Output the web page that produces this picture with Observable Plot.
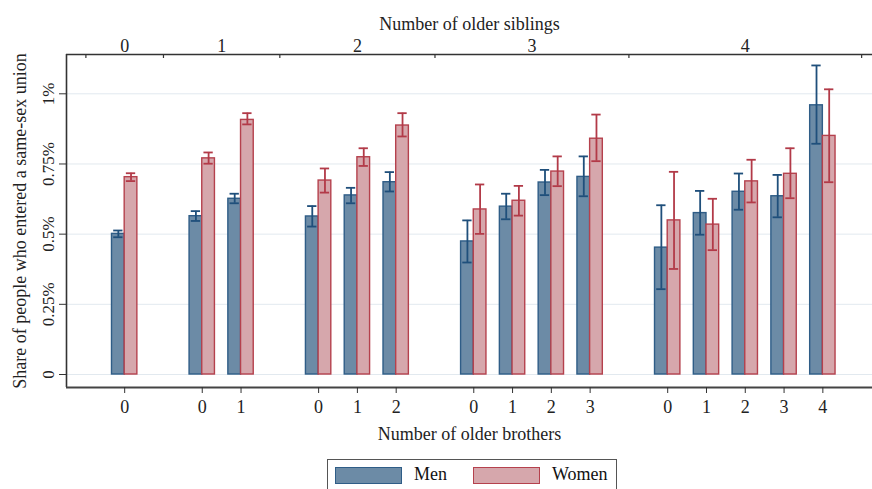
<!DOCTYPE html>
<html>
<head>
<meta charset="utf-8">
<script src="https://cdn.jsdelivr.net/npm/d3@7"></script>
<script src="https://cdn.jsdelivr.net/npm/@observablehq/plot@0.6"></script>
<style>
  body { margin: 0; background: #fff; font-family: "Liberation Serif", "DejaVu Serif", serif; }
  #chart { width: 872px; }
  #chart svg { display: block; }
  #chart svg, #chart svg text { font-family: "Liberation Serif", "DejaVu Serif", serif !important; }
  #legend { position: relative; margin-left: 327px; margin-top: 7px; width: 290px; height: 40px; border: 1.5px solid #555; box-sizing: border-box; background: #fff; }
  .sw { position: absolute; top: 7px; width: 67px; height: 17px; box-sizing: border-box; border: 1.5px solid; }
  .lab { position: absolute; top: 3px; font-size: 18px; line-height: 22px; color: #111; font-family: "Liberation Serif", "DejaVu Serif", serif; }
</style>
</head>
<body>
<div id="chart"></div>
<div id="legend"></div>
<script>
// ---- data (values in percent) ----
const siblings = [0, 1, 1, 2, 2, 2, 3, 3, 3, 3, 4, 4, 4, 4, 4];
const brothers = [0, 0, 1, 0, 1, 2, 0, 1, 2, 3, 0, 1, 2, 3, 4];
const menShare  = [0.501, 0.564, 0.626, 0.563, 0.638, 0.685, 0.474, 0.598, 0.684, 0.704, 0.452, 0.575, 0.651, 0.635, 0.959];
const menLow    = [0.489, 0.547, 0.610, 0.527, 0.610, 0.652, 0.399, 0.553, 0.639, 0.635, 0.304, 0.498, 0.587, 0.560, 0.822];
const menHigh   = [0.513, 0.582, 0.644, 0.600, 0.665, 0.721, 0.549, 0.644, 0.729, 0.777, 0.603, 0.654, 0.716, 0.711, 1.101];
const womenShare = [0.703, 0.770, 0.907, 0.691, 0.774, 0.887, 0.588, 0.619, 0.723, 0.840, 0.549, 0.534, 0.688, 0.715, 0.850];
const womenLow   = [0.689, 0.751, 0.891, 0.648, 0.743, 0.848, 0.501, 0.566, 0.671, 0.760, 0.376, 0.443, 0.613, 0.628, 0.685];
const womenHigh  = [0.717, 0.791, 0.931, 0.734, 0.806, 0.931, 0.677, 0.672, 0.777, 0.926, 0.722, 0.626, 0.765, 0.806, 1.016];
const siblingLabels = ["0", "1", "2", "3", "4"];
const yTicks = [0, 0.25, 0.5, 0.75, 1];
const yTickLabels = ["0", "0.25%", "0.5%", "0.75%", "1%"];
const sexes = ["Men", "Women"];

// ---- layout helpers ----
const groupStart = g => g * (g + 1) / 2 + g;   // slot where sibling group g begins
const slot = i => groupStart(siblings[i]) + brothers[i];
const W = 0.327;   // bar width in slot units
const CAP = 0.12;  // half cap width
const xDomain = [-1.5, 19.28];
const yDomain = [-0.0463, 1.14];
const H = 452, MT = 54, MB = 65;
const FONT = '"Liberation Serif", "DejaVu Serif", serif';

const rows = [];
siblings.forEach((s, i) => {
  const p = slot(i);
  rows.push({sex: "Men", slot: p, x1: p - W, x2: p, xc: p - W / 2, v: menShare[i], lo: menLow[i], hi: menHigh[i]});
  rows.push({sex: "Women", slot: p, x1: p, x2: p + W, xc: p + W / 2, v: womenShare[i], lo: womenLow[i], hi: womenHigh[i]});
});
const slots = siblings.map((s, i) => slot(i));
const brotherBySlot = new Map(slots.map((p, i) => [p, String(brothers[i])]));
const groupCenters = siblingLabels.map((l, g) => groupStart(g) + g / 2);
const groupLabelByCenter = new Map(groupCenters.map((c, g) => [c, siblingLabels[g]]));
const boundaries = [-1, ...siblingLabels.map((l, g) => groupStart(g) + g + 1)];
const yLabelOf = new Map(yTicks.map((t, i) => [t, yTickLabels[i]]));

const fillC = {Men: "#6c8ba6", Women: "#d6a7ac"};
const strokeC = {Men: "#2f5d87", Women: "#b5414d"};
const errC = {Men: "#1f4f7b", Women: "#b23a48"};

const marks = [
  Plot.gridY(yTicks, {stroke: "#e2e9ef", strokeOpacity: 1, strokeWidth: 1})
];
sexes.forEach(s => {
  const d = rows.filter(r => r.sex === s);
  marks.push(Plot.rectY(d, {x1: "x1", x2: "x2", y: "v", fill: fillC[s], stroke: strokeC[s], strokeWidth: 1.4}));
});
sexes.forEach(s => {
  const d = rows.filter(r => r.sex === s);
  marks.push(Plot.ruleX(d, {x: "xc", y1: "lo", y2: "hi", stroke: errC[s], strokeWidth: 1.8}));
  marks.push(Plot.ruleY(d, {y: "hi", x1: r => r.xc - CAP, x2: r => r.xc + CAP, stroke: errC[s], strokeWidth: 1.8}));
  marks.push(Plot.ruleY(d, {y: "lo", x1: r => r.xc - CAP, x2: r => r.xc + CAP, stroke: errC[s], strokeWidth: 1.8}));
});
marks.push(
  // frame lines
  Plot.ruleX([xDomain[0]], {stroke: "#333", strokeWidth: 1.6}),
  Plot.ruleY([yDomain[0]], {stroke: "#444", strokeWidth: 1.8}),
  Plot.ruleY([yDomain[1]], {stroke: "#333", strokeWidth: 1.4}),
  // y axis
  Plot.axisY(yTicks, {tickSize: 7, tickFormat: () => "", label: null, stroke: "#333"}),
  Plot.text(yTicks, {y: d => d, text: d => yLabelOf.get(d), frameAnchor: "left", dx: -18, rotate: -90, textAnchor: "middle", lineAnchor: "middle", fontSize: 17, fontFamily: FONT, fill: "#222"}),
  Plot.text(["Share of people who entered a same-sex union"], {frameAnchor: "left", dx: -46, rotate: -90, textAnchor: "middle", lineAnchor: "middle", fontSize: 18, fontFamily: FONT, fill: "#222"}),
  // bottom axis
  Plot.axisX(slots, {anchor: "bottom", tickSize: 6, tickPadding: 7, tickFormat: d => brotherBySlot.get(d), label: null, fontSize: 18, fontFamily: FONT, stroke: "#333", fill: "#222"}),
  Plot.text(["Number of older brothers"], {frameAnchor: "bottom", dy: 47, lineAnchor: "middle", fontSize: 18, fontFamily: FONT, fill: "#222"}),
  // top axis: inward ticks at group boundaries, labels at group centres
  Plot.ruleX(boundaries, {insetBottom: H - MT - MB - 4, stroke: "#333", strokeWidth: 1.2}),
  Plot.axisX(groupCenters, {anchor: "top", tickSize: 0, tickPadding: 3, tickFormat: d => groupLabelByCenter.get(d), label: null, fontSize: 18, fontFamily: FONT, fill: "#222"}),
  Plot.text(["Number of older siblings"], {frameAnchor: "top", dy: -30, lineAnchor: "middle", fontSize: 18, fontFamily: FONT, fill: "#222"})
);

const chart = Plot.plot({
  width: 872,
  height: H,
  marginLeft: 66,
  marginRight: 0,
  marginTop: MT,
  marginBottom: MB,
  style: {fontFamily: FONT, fontSize: "16px", background: "#fff", color: "#222"},
  x: {type: "linear", domain: xDomain, axis: null},
  y: {domain: yDomain, axis: null},
  marks
});
document.getElementById("chart").appendChild(chart);

// legend below
const legend = document.getElementById("legend");
const items = [{s: "Men", swLeft: 7, labLeft: 86}, {s: "Women", swLeft: 145, labLeft: 224}];
for (const it of items) {
  const box = document.createElement("div");
  box.className = "sw";
  box.style.left = it.swLeft + "px";
  box.style.background = fillC[it.s];
  box.style.borderColor = strokeC[it.s];
  legend.appendChild(box);
  const lb = document.createElement("div");
  lb.className = "lab";
  lb.style.left = it.labLeft + "px";
  lb.textContent = it.s;
  legend.appendChild(lb);
}
</script>
</body>
</html>
